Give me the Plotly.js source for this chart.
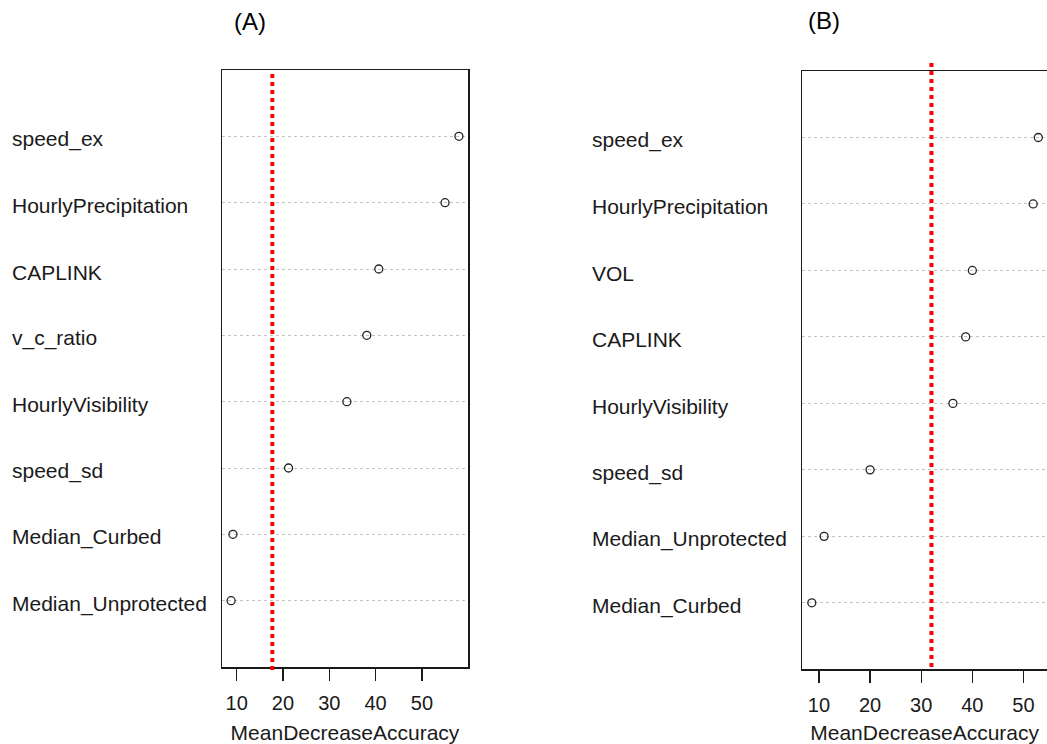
<!DOCTYPE html>
<html>
<head>
<meta charset="utf-8">
<script src="https://cdn.plot.ly/plotly-3.0.1.min.js"></script>
<style>
  html, body { margin: 0; padding: 0; background: #fff; }
  #chart { width: 1047px; height: 744px; }
</style>
</head>
<body>
<div id="chart"></div>
<script>
// ---- data ----
const catsA = ["speed_ex", "HourlyPrecipitation", "CAPLINK", "v_c_ratio", "HourlyVisibility", "speed_sd", "Median_Curbed", "Median_Unprotected"];
const valsA = [58.0, 55.0, 40.7, 38.1, 33.8, 21.2, 9.2, 8.8];
const catsB = ["speed_ex", "HourlyPrecipitation", "VOL", "CAPLINK", "HourlyVisibility", "speed_sd", "Median_Unprotected", "Median_Curbed"];
const valsB = [52.9, 51.9, 40.0, 38.7, 36.2, 20.0, 11.0, 8.6];
const thresholds = [17.7, 32.0];
const xTicks = [10, 20, 30, 40, 50];
const panelTitles = ["(A)", "(B)"];
const xTitle = "MeanDecreaseAccuracy";

// ---- layout helpers ----
const W = 1047, H = 744;
const px = v => v / W;
const py = v => (H - v) / H;
const FONT = "Liberation Sans, Arial, sans-serif";
const INK = "#1a1a1a";

function marker(cats, vals, xa, ya) {
  return {
    type: "scatter", mode: "markers",
    x: vals, y: cats, xaxis: xa, yaxis: ya,
    marker: { symbol: "circle-open", size: 8, color: "#222", line: { width: 1.3, color: "#222" } },
    hoverinfo: "x+y", showlegend: false
  };
}

const data = [marker(catsA, valsA, "x", "y"), marker(catsB, valsB, "x2", "y2")];

function xaxisDef(domain, range, mirror) {
  return {
    domain: domain, range: range, fixedrange: true,
    tickmode: "array", tickvals: xTicks, ticktext: xTicks.map(String),
    ticks: "outside", ticklen: 12, tickwidth: 1.3, tickcolor: INK,
    ticklabelstandoff: 5,
    tickfont: { family: FONT, size: 20, color: INK },
    showgrid: false, zeroline: false,
    showline: true, mirror: mirror, linecolor: INK, linewidth: 1.5,
    title: { text: xTitle, font: { family: FONT, size: 21, color: INK }, standoff: 16 }
  };
}
function yaxisDef(domain, cats, mirror, anchor) {
  return {
    domain: domain, anchor: anchor, type: "category",
    categoryorder: "array", categoryarray: cats.slice().reverse(),
    range: [-1, cats.length], fixedrange: true,
    showticklabels: false, ticks: "",
    showgrid: true, gridcolor: "#c4c4c4", gridwidth: 1, griddash: "dot",
    zeroline: false, showline: true, mirror: mirror, linecolor: INK, linewidth: 1.5
  };
}

const annotations = [];
function labels(cats, xPix, yref) {
  cats.forEach(c => annotations.push({
    xref: "paper", yref: yref, x: px(xPix), y: c, xanchor: "left", yanchor: "middle", yshift: -3,
    text: c, showarrow: false, font: { family: FONT, size: 21, color: INK }
  }));
}
labels(catsA, 10, "y");
labels(catsB, 590, "y2");

annotations.push({ xref: "paper", yref: "paper", x: px(250), y: py(22), xanchor: "center", yanchor: "middle",
  text: panelTitles[0], showarrow: false, font: { family: FONT, size: 24, color: "#000" } });
annotations.push({ xref: "paper", yref: "paper", x: px(824), y: py(21), xanchor: "center", yanchor: "middle",
  text: panelTitles[1], showarrow: false, font: { family: FONT, size: 24, color: "#000" } });

const shapes = [
  { type: "line", xref: "x", yref: "paper", x0: thresholds[0], x1: thresholds[0], y0: py(670), y1: py(70),
    line: { color: "#ff0000", width: 4, dash: "dot" } },
  { type: "line", xref: "x2", yref: "paper", x0: thresholds[1], x1: thresholds[1], y0: py(667), y1: py(63),
    line: { color: "#ff0000", width: 4, dash: "dot" } }
];

const layout = {
  width: W, height: H,
  margin: { l: 0, r: 0, t: 0, b: 0 },
  paper_bgcolor: "#fff", plot_bgcolor: "#fff",
  font: { family: FONT, color: INK },
  showlegend: false,
  xaxis: xaxisDef([px(222), px(468)], [6.83, 59.96], true),
  yaxis: yaxisDef([py(667), py(70)], catsA, true, "x"),
  xaxis2: Object.assign(xaxisDef([px(802.3), 1], [6.74, 54.6], true), { anchor: "y2" }),
  yaxis2: yaxisDef([py(669.3), py(71)], catsB, false, "x2"),
  annotations: annotations,
  shapes: shapes
};
layout.xaxis.anchor = "y";

Plotly.newPlot("chart", data, layout, { displayModeBar: false, staticPlot: true });
</script>
</body>
</html>
